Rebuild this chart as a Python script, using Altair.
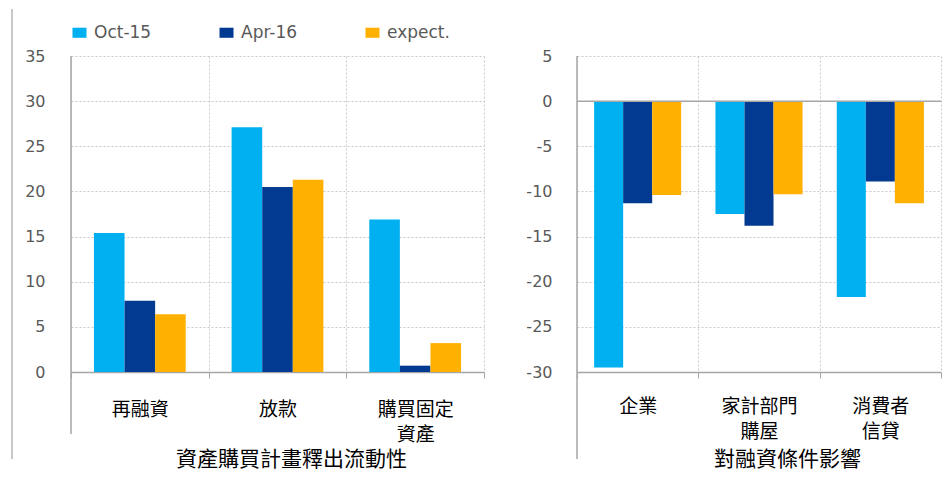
import json
import altair as alt
import pandas as pd

series = ["Oct-15", "Apr-16", "expect."]
colors = ["#00B0F0", "#023A91", "#FFB000"]

left_categories = ["再融資", "放款", "購買固定資產"]
left_lines = {"再融資": ["再融資"], "放款": ["放款"], "購買固定資產": ["購買固定", "資產"]}
left_oct15 = [15.4, 27.1, 16.9]
left_apr16 = [7.9, 20.5, 0.7]
left_expect = [6.4, 21.3, 3.2]
left_title = "資產購買計畫釋出流動性"

right_categories = ["企業", "家計部門購屋", "消費者信貸"]
right_lines = {"企業": ["企業"], "家計部門購屋": ["家計部門", "購屋"], "消費者信貸": ["消費者", "信貸"]}
right_oct15 = [-29.5, -12.5, -21.7]
right_apr16 = [-11.3, -13.8, -8.9]
right_expect = [-10.4, -10.3, -11.3]
right_title = "對融資條件影響"

left_ticks = [0, 5, 10, 15, 20, 25, 30, 35]
right_ticks = [5, 0, -5, -10, -15, -20, -25, -30]


def long_table(cats, a, b, c):
    rows = []
    for i, cat in enumerate(cats):
        for s, vals in zip(series, [a, b, c]):
            rows.append({"category": cat, "series": s, "value": vals[i]})
    return pd.DataFrame(rows)


df_left = long_table(left_categories, left_oct15, left_apr16, left_expect)
df_right = long_table(right_categories, right_oct15, right_apr16, right_expect)


def label_expr(lines):
    parts = []
    for k, v in lines.items():
        parts.append(f"datum.value == {json.dumps(k, ensure_ascii=False)} ? {json.dumps(v, ensure_ascii=False)} : ")
    return "".join(parts) + "datum.value"


CJK = "Noto Sans CJK TC"
NUM = "DejaVu Sans"
GRID = "#c9c9c9"
AXIS = "#a6a6a6"

color_enc = alt.Color(
    "series:N",
    sort=series,
    scale=alt.Scale(domain=series, range=colors),
    legend=alt.Legend(
        title=None,
        orient="none",
        legendX=0,
        legendY=-32,
        direction="horizontal",
        symbolType="M-1,-0.72H1V0.72H-1Z",
        symbolSize=196,
        symbolStrokeWidth=0,
        labelFont=NUM,
        labelFontSize=17,
        labelColor="#595959",
        labelOffset=6,
        columnPadding=66,
    ),
)


def panel(df, cats, lines, title, domain, ticks, pad_outer, title_x, title_y, lab_pad, lab_lh, ylab_pad):
    bars = alt.Chart(df).mark_bar().encode(
        x=alt.X(
            "category:N",
            sort=cats,
            scale=alt.Scale(paddingInner=0, paddingOuter=0),
            axis=alt.Axis(
                title=title,
                titleFont=CJK,
                titleFontSize=21,
                titleFontWeight="normal",
                titleColor="#000000",
                titleX=title_x,
                titleY=title_y,
                titleAlign="center",
                titleBaseline="middle",
                labelAngle=0,
                labelFont=CJK,
                labelFontSize=19,
                labelColor="#000000",
                labelExpr=label_expr(lines),
                labelLineHeight=lab_lh,
                labelPadding=lab_pad,
                labelBaseline="top",
                tickBand="extent",
                tickSize=6,
                tickColor=AXIS,
                domainColor=AXIS,
                domainWidth=1.5,
                grid=True,
                gridColor=GRID,
                gridDash=[2, 2],
                gridWidth=1,
            ),
        ),
        xOffset=alt.XOffset("series:N", sort=series, scale=alt.Scale(paddingInner=0, paddingOuter=pad_outer)),
        y=alt.Y(
            "value:Q",
            scale=alt.Scale(domain=domain, nice=False, zero=False),
            axis=alt.Axis(
                title=None,
                values=ticks,
                domain=False,
                ticks=False,
                labelExpr="toString(datum.value)",
                labelPadding=ylab_pad,
                labelFont=NUM,
                labelFontSize=16,
                labelColor="#595959",
                grid=True,
                gridColor=GRID,
                gridDash=[2, 2],
                gridWidth=1,
            ),
        ),
        color=color_enc,
    )
    return bars


one = alt.Data(values=[{}])

left_bars = panel(df_left, left_categories, left_lines, left_title, [0, 35], left_ticks,
                  0.75, 220, 87, 22, 25, 26)
left_axis_rule = alt.Chart(one).mark_rule(color=AXIS, strokeWidth=1.5).encode(
    x=alt.value(0), y=alt.value(0), y2=alt.value(378))
left_frame_rule = alt.Chart(one).mark_rule(color="#c8c8c8", strokeWidth=2).encode(
    x=alt.value(-59), y=alt.value(-47), y2=alt.value(403))
left = alt.layer(left_bars, left_axis_rule, left_frame_rule).properties(width=413, height=316)

right_bars = panel(df_right, right_categories, right_lines, right_title, [-30, 5], right_ticks,
                   0.59, 210, 87, 19, 25, 25)
right_zero = alt.Chart(one).mark_rule(color=AXIS, strokeWidth=1.5).encode(y=alt.datum(0))
right_axis_rule = alt.Chart(one).mark_rule(color=AXIS, strokeWidth=1.5).encode(
    x=alt.value(0), y=alt.value(0), y2=alt.value(403))
right = alt.layer(right_bars, right_zero, right_axis_rule).properties(width=364, height=316)

chart = (
    alt.hconcat(left, right, spacing=93, bounds="flush")
    .resolve_scale(x="independent", y="independent", xOffset="independent", color="shared")
    .properties(padding={"left": 3, "top": 0, "right": 0, "bottom": 4})
    .configure_view(stroke=None)
)

chart.save("out.html", embed_options={"renderer": "svg", "actions": False})
